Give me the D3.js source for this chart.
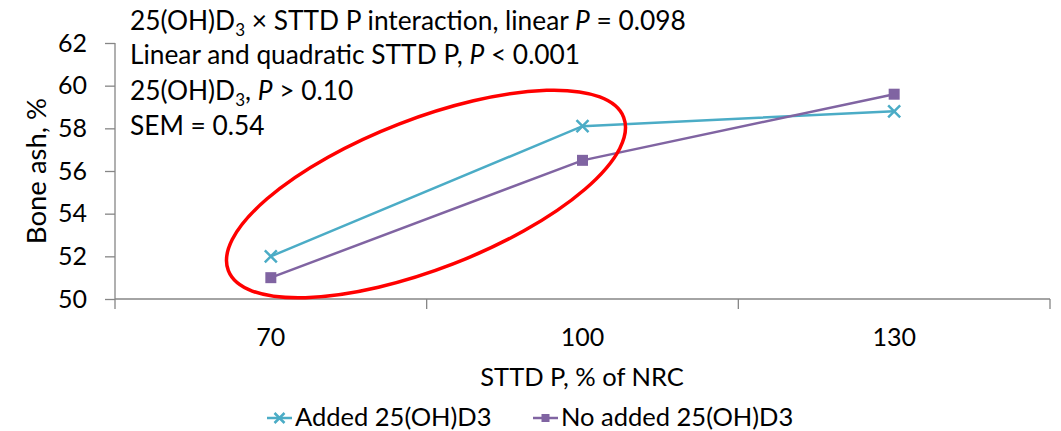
<!DOCTYPE html>
<html>
<head>
<meta charset="utf-8">
<script src="https://cdn.jsdelivr.net/npm/d3@7"></script>
<style>
  body { margin: 0; background: #fff; }
  svg text { font-family: Lato, "Open Sans", sans-serif; fill: #000; }
</style>
</head>
<body>
<div id="chart"></div>
<script>
// categories (STTD P, % of NRC)
var categories = ["70", "100", "130"];
// bone ash, %
var added = [52.0, 58.1, 58.8];
var noAdded = [51.0, 56.5, 59.6];
var seriesNames = ["Added 25(OH)D3", "No added 25(OH)D3"];
var yTicks = [50, 52, 54, 56, 58, 60, 62];

var width = 1061,
    height = 431;

var margin = {left: 115, right: 11, top: 43, bottom: 132};

var svg = d3.select("#chart").append("svg")
    .attr("width", width)
    .attr("height", height);

var x = d3.scaleBand()
    .domain(categories)
    .range([margin.left, width - margin.right])
    .padding(0);

var y = d3.scaleLinear()
    .domain([50, 62])
    .range([height - margin.bottom, margin.top]);

var axisColor = "#868686";

// y axis
var yAxis = svg.append("g")
    .attr("transform", "translate(" + margin.left + ",0)")
    .call(d3.axisLeft(y).tickValues(yTicks).tickSize(10).tickPadding(18));
yAxis.selectAll("line, path").attr("stroke", axisColor).attr("stroke-width", 1.3);
yAxis.select(".domain").attr("d", "M0," + y(62) + "V" + y(50));
yAxis.selectAll("text").style("font-size", "25px").attr("fill", "#000");

// x axis: ticks between categories
var xBase = y(50);
var xg = svg.append("g");
xg.append("line")
    .attr("x1", x.range()[0]).attr("x2", x.range()[1])
    .attr("y1", xBase).attr("y2", xBase)
    .attr("stroke", axisColor).attr("stroke-width", 1.3);
var bounds = categories.map(function (c) { return x(c); }).concat([x.range()[1]]);
xg.selectAll(".tk")
    .data(bounds)
    .enter().append("line")
    .attr("x1", function (d) { return d; })
    .attr("x2", function (d) { return d; })
    .attr("y1", xBase).attr("y2", xBase + 10)
    .attr("stroke", axisColor).attr("stroke-width", 1.3);
xg.selectAll(".lbl")
    .data(categories)
    .enter().append("text")
    .attr("x", function (d) { return x(d) + x.bandwidth() / 2; })
    .attr("y", 346)
    .attr("text-anchor", "middle")
    .style("font-size", "25px")
    .text(function (d) { return d; });

// axis titles
svg.append("text")
    .attr("x", 582).attr("y", 386)
    .attr("text-anchor", "middle")
    .style("font-size", "25.5px")
    .text("STTD P, % of NRC");

svg.append("text")
    .attr("transform", "translate(46,171) rotate(-90)")
    .attr("text-anchor", "middle")
    .style("font-size", "27.5px")
    .text("Bone ash, %");

// series
var cx = function (d, i) { return x(categories[i]) + x.bandwidth() / 2; };
var line = d3.line()
    .x(function (d, i) { return cx(d, i); })
    .y(function (d) { return y(d); });

var colors = ["#4BACC6", "#8064A2"];

svg.append("path")
    .datum(added)
    .attr("d", line)
    .attr("fill", "none")
    .attr("stroke", colors[0])
    .attr("stroke-width", 2.5);

svg.append("path")
    .datum(noAdded)
    .attr("d", line)
    .attr("fill", "none")
    .attr("stroke", colors[1])
    .attr("stroke-width", 2.5);

function crossPath(px, py, r) {
    return "M" + (px - r) + "," + (py - r) + "L" + (px + r) + "," + (py + r) +
        "M" + (px - r) + "," + (py + r) + "L" + (px + r) + "," + (py - r);
}

svg.selectAll(".cross")
    .data(added)
    .enter().append("path")
    .attr("d", function (d, i) { return crossPath(cx(d, i), y(d), 6); })
    .attr("stroke", colors[0])
    .attr("stroke-width", 2.5)
    .attr("fill", "none");

svg.selectAll(".sq")
    .data(noAdded)
    .enter().append("rect")
    .attr("x", function (d, i) { return cx(d, i) - 5.5; })
    .attr("y", function (d) { return y(d) - 5.5; })
    .attr("width", 11)
    .attr("height", 11)
    .attr("fill", colors[1]);

// annotation text
var notes = svg.append("g").style("font-size", "26.3px");

function addLine(yPos, parts) {
    var t = notes.append("text").attr("x", 130).attr("y", yPos);
    parts.forEach(function (p) {
        var ts = t.append("tspan").text(p.t);
        if (p.i) ts.style("font-style", "italic");
        if (p.sub) ts.style("font-size", "17px").attr("dy", 6);
        if (p.up) ts.attr("dy", -6);
    });
}

addLine(30, [{t: "25(OH)D"}, {t: "3", sub: true}, {t: " × STTD P interaction, linear ", up: true}, {t: "P", i: true}, {t: " = 0.098"}]);
addLine(64, [{t: "Linear and quadratic STTD P, "}, {t: "P", i: true}, {t: " < 0.001"}]);
addLine(100, [{t: "25(OH)D"}, {t: "3", sub: true}, {t: ", ", up: true}, {t: "P", i: true}, {t: " > 0.10"}]);
addLine(135, [{t: "SEM = 0.54"}]);

// red highlight ellipse
svg.append("ellipse")
    .attr("cx", 0).attr("cy", 0)
    .attr("rx", 212).attr("ry", 75)
    .attr("transform", "translate(426,194) rotate(-21.2)")
    .attr("fill", "none")
    .attr("stroke", "#FF0000")
    .attr("stroke-width", 3.5);

// legend
var legend = svg.append("g");
var legendX = [267, 533];
var ly = 418;
legend.selectAll("line")
    .data(seriesNames)
    .enter().append("line")
    .attr("x1", function (d, i) { return legendX[i]; })
    .attr("x2", function (d, i) { return legendX[i] + 25; })
    .attr("y1", ly).attr("y2", ly)
    .attr("stroke", function (d, i) { return colors[i]; })
    .attr("stroke-width", 2.5);
legend.append("path")
    .attr("d", crossPath(legendX[0] + 12.5, ly, 5))
    .attr("stroke", colors[0]).attr("stroke-width", 2.5);
legend.append("rect")
    .attr("x", legendX[1] + 8.5).attr("y", ly - 4)
    .attr("width", 8).attr("height", 8)
    .attr("fill", colors[1]);
legend.selectAll("text")
    .data(seriesNames)
    .enter().append("text")
    .attr("x", function (d, i) { return legendX[i] + 28; })
    .attr("y", 426)
    .style("font-size", "25.5px")
    .text(function (d) { return d; });
</script>
</body>
</html>
